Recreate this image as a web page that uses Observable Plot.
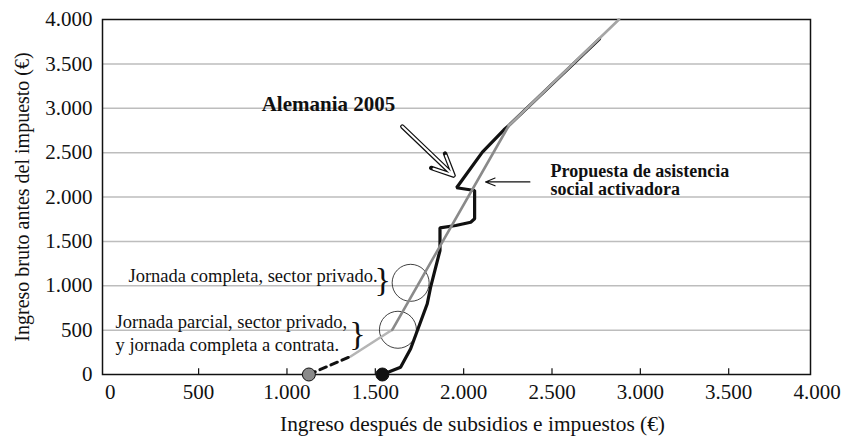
<!DOCTYPE html>
<html>
<head>
<meta charset="utf-8">
<script src="https://cdn.jsdelivr.net/npm/d3@7"></script>
<script src="https://cdn.jsdelivr.net/npm/@observablehq/plot@0.6"></script>
<style>
  html, body { margin: 0; padding: 0; background: #fff; }
  #chart svg { display: block; font-family: "Liberation Serif", "Times New Roman", serif; }
</style>
</head>
<body>
<div id="chart"></div>
<script>
// ---- data ----
const xTicks = [0, 500, 1000, 1500, 2000, 2500, 3000, 3500, 4000];
const xTickMarks = [500, 1000, 1500, 2000, 2500, 3000, 3500];
const yTicks = [0, 500, 1000, 1500, 2000, 2500, 3000, 3500, 4000];
const yGrid = [500, 1000, 1500, 2000, 2500, 3000, 3500];

// Alemania 2005 (net income, gross income)
const alemaniaNet   = [1540, 1643, 1700, 1794, 1813, 1866, 1866, 1955, 2040, 2062, 2062, 1960, 2106, 2228, 2256, 2769];
const alemaniaGross = [0,    82,   290,  797,  984,  1397, 1653, 1679, 1716, 1754, 2073, 2104, 2505, 2757, 2806, 3782];

// Propuesta de asistencia social activadora
const propDashNet   = [1124, 1360];
const propDashGross = [0, 203];
const propLowNet    = [1360, 1596];
const propLowGross  = [203, 504];
const propMidNet    = [1596, 2256];
const propMidGross  = [504, 2806];
const propTopNet    = [2256, 2879];
const propTopGross  = [2806, 4000];

// start points
const startNet   = [1124, 1540];
const startGross = [0, 0];
const startColor = ["#8a8a8a", "#111111"];

// highlighted circles
const circleNet   = [1700, 1628];
const circleGross = [1033, 504];

// annotations
const xLabel = "Ingreso después de subsidios e impuestos (€)";
const yLabel = "Ingreso bruto antes del impuesto (€)";
const alemaniaLabel = "Alemania 2005";
const alemaniaLabelPos = [1235, 3042];
const alemaniaArrow = [1653, 2794, 1943, 2242];
const propLabel = "Propuesta de asistencia\nsocial activadora";
const propLabelPos = [2492, 2192];
const propArrow = [2375, 2170, 2124, 2170];
const jornada1 = "Jornada completa, sector privado.";
const jornada1Pos = [1513, 1108];
const brace1Pos = [1542, 1060];
const jornada2 = "Jornada parcial, sector privado,\ny jornada completa a contrata.";
const jornada2Pos = [30, 479];
const brace2Pos = [1399, 452];

const toXY = (xs, ys) => xs.map((x, i) => ({x, y: ys[i]}));
const fmt = d3.formatLocale({decimal: ",", thousands: ".", grouping: [3], currency: ["", "€"]}).format(",");
const serif = "Liberation Serif, Times New Roman, serif";
const T = {fontFamily: serif, fill: "#111"};

const chart = Plot.plot({
  width: 844,
  height: 443,
  marginLeft: 102,
  marginRight: 34,
  marginTop: 19,
  marginBottom: 69,
  style: {background: "#fff", color: "#111"},
  x: {domain: [-44, 3963]},
  y: {domain: [0, 4000]},
  marks: [
    Plot.ruleY(yGrid, {stroke: "#bdbdbd", strokeWidth: 1.5}),
    Plot.frame({stroke: "#111", strokeWidth: 1.5}),
    Plot.ruleX(xTickMarks, {y1: 0, y2: 65, stroke: "#111", strokeWidth: 1.2}),
    Plot.axisX(xTicks, {tickSize: 0, tickPadding: 10, tickFormat: fmt, fontSize: 21, label: null, ...T}),
    Plot.axisY(yTicks, {tickSize: 0, tickPadding: 10, tickFormat: fmt, fontSize: 21, label: null, ...T}),
    Plot.dot(toXY(circleNet, circleGross), {x: "x", y: "y", r: 18.5, stroke: "#111", strokeWidth: 0.8, fill: "none"}),
    Plot.line(toXY(propLowNet, propLowGross), {x: "x", y: "y", stroke: "#b5b5b5", strokeWidth: 2.6}),
    Plot.line(toXY(alemaniaNet, alemaniaGross), {x: "x", y: "y", stroke: "#111", strokeWidth: 3.2, strokeLinejoin: "miter"}),
    Plot.line(toXY(propMidNet, propMidGross), {x: "x", y: "y", stroke: "#8a8a8a", strokeWidth: 2.6}),
    Plot.line(toXY(propTopNet, propTopGross), {x: "x", y: "y", stroke: "#a5a5a5", strokeWidth: 2.6}),
    Plot.line(toXY(propDashNet, propDashGross), {x: "x", y: "y", stroke: "#111", strokeWidth: 3, strokeDasharray: "7,5"}),
    Plot.dot(startNet.map((x, i) => ({x, y: startGross[i], c: startColor[i]})), {x: "x", y: "y", r: 6.5, fill: "c", stroke: "#111", strokeWidth: 1}),
    // hollow arrow
    Plot.arrow([alemaniaArrow], {x1: d => d[0], y1: d => d[1], x2: d => d[2], y2: d => d[3], stroke: "#111", strokeWidth: 4.5, headLength: 16, headAngle: 50}),
    Plot.arrow([alemaniaArrow], {x1: d => d[0], y1: d => d[1], x2: d => d[2], y2: d => d[3], stroke: "#fff", strokeWidth: 2, headLength: 16, headAngle: 50}),
    Plot.arrow([propArrow], {x1: d => d[0], y1: d => d[1], x2: d => d[2], y2: d => d[3], stroke: "#111", strokeWidth: 1.1, headLength: 14, headAngle: 45}),
    Plot.text([alemaniaLabel], {x: alemaniaLabelPos[0], y: alemaniaLabelPos[1], text: d => d, fontSize: 21, fontWeight: "bold", ...T}),
    Plot.text([propLabel], {x: propLabelPos[0], y: propLabelPos[1], text: d => d, fontSize: 18, fontWeight: "bold", textAnchor: "start", lineHeight: 1.05, ...T}),
    Plot.text([jornada1], {x: jornada1Pos[0], y: jornada1Pos[1], text: d => d, fontSize: 18.5, textAnchor: "end", ...T}),
    Plot.text(["}"], {x: brace1Pos[0], y: brace1Pos[1], text: d => d, fontSize: 34, ...T}),
    Plot.text([jornada2], {x: jornada2Pos[0], y: jornada2Pos[1], text: d => d, fontSize: 18.5, textAnchor: "start", lineHeight: 1.25, ...T}),
    Plot.text(["}"], {x: brace2Pos[0], y: brace2Pos[1], text: d => d, fontSize: 34, ...T}),
    Plot.text([xLabel], {frameAnchor: "bottom", textAnchor: "middle", dx: 16, dy: 56, text: d => d, fontSize: 21.4, ...T}),
    Plot.text([yLabel], {frameAnchor: "left", textAnchor: "middle", dx: -80, rotate: -90, text: d => d, fontSize: 20, ...T})
  ]
});
document.getElementById("chart").appendChild(chart);
</script>
</body>
</html>
